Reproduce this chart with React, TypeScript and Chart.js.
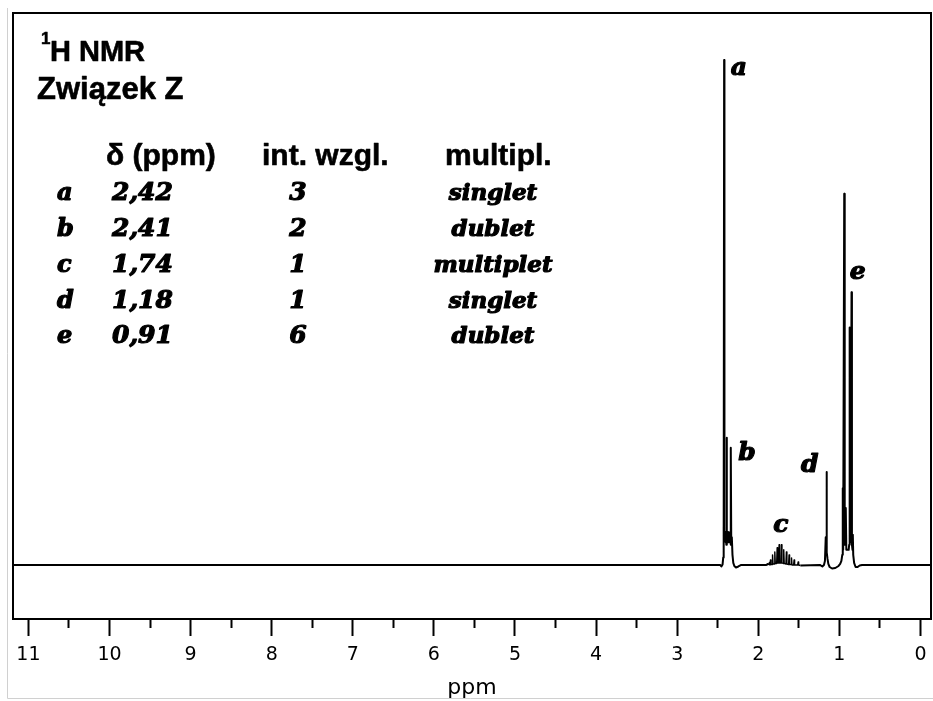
import React, { useEffect, useRef } from 'react';
import { Chart, registerables } from 'chart.js';

Chart.register(...registerables);

// ---- axis ticks (ppm) ----
const majorTicks = [11, 10, 9, 8, 7, 6, 5, 4, 3, 2, 1, 0];
const minorTicks = [10.5, 9.5, 8.5, 7.5, 6.5, 5.5, 4.5, 3.5, 2.5, 1.5, 0.5];
const xMin = -0.13;
const xMax = 11.19;
const yMin = -10.7;
const yMax = 109.3;

// ---- spectrum, [ppm, relative intensity] ----
const baselineEnds: [number, number][] = [[11.19, 0], [-0.13, 0]];

const signalAB: [number, number][] = [
  [2.47, 0], [2.455, -0.3], [2.44, 0.1], [2.432, 1.5], [2.428, 7.5], [2.425, 2.5],
  [2.421, 100], [2.417, 5], [2.41, 6.5], [2.405, 4.5], [2.398, 6], [2.394, 4],
  [2.39, 25.2], [2.386, 5], [2.38, 6.5], [2.374, 4.5], [2.368, 6.5], [2.362, 4.5],
  [2.356, 6], [2.35, 4.5], [2.344, 5.5], [2.341, 4], [2.337, 23.2], [2.333, 4],
  [2.326, 5.5], [2.318, 2], [2.308, 0.4], [2.295, -0.2], [2.275, -0.5], [2.245, -0.3],
  [2.21, 0],
];

const signalC: [number, number][] = [
  [1.9, 0], [1.88, 0.2], [1.872, 0], [1.862, 0.5], [1.856, 0], [1.849, 1],
  [1.843, 0.1], [1.83, 0.1], [1.824, 2], [1.818, 0.2], [1.802, 0.2], [1.796, 2.6],
  [1.79, 0.3], [1.773, 0.3], [1.767, 3.4], [1.761, 0.4], [1.749, 0.4], [1.743, 4],
  [1.737, 0.4], [1.72, 0.4], [1.714, 4], [1.708, 0.4], [1.692, 0.3], [1.686, 3],
  [1.68, 0.3], [1.659, 0.2], [1.653, 2.6], [1.647, 0.2], [1.626, 0.1], [1.62, 2],
  [1.614, 0.1], [1.596, 0.1], [1.59, 1.4], [1.584, 0], [1.564, 0], [1.558, 1],
  [1.552, 0], [1.514, 0], [1.508, 0.6], [1.502, 0], [1.48, -0.1],
];

const signalD: [number, number][] = [
  [1.24, 0], [1.21, -0.3], [1.19, 0], [1.178, 0.8], [1.168, 5.5],
  [1.163, 2.5], [1.158, 18.4], [1.154, 2.5], [1.146, 1.2], [1.136, 0.2], [1.12, -0.4],
  [1.09, -0.7], [1.05, -0.6], [1.01, -0.2], [0.99, 0.2],
];

const signalE: [number, number][] = [
  [0.975, 0.8], [0.964, 2], [0.958, 15.2], [0.953, 3], [0.94, 73.5],
  [0.934, 4], [0.921, 11.3], [0.914, 3], [0.9, 3], [0.885, 3], [0.879, 4],
  [0.875, 47], [0.871, 5], [0.86, 4.5], [0.85, 54], [0.845, 4], [0.838, 3],
  [0.834, 6], [0.829, 2], [0.818, 0.4], [0.8, -0.4], [0.775, -0.4], [0.75, -0.1],
  [0.72, 0],
];

// ---- text content ----
const titleLine1 = 'H NMR';
const titleSup = '1';
const titleLine2 = 'Związek Z';
const headers = ['δ (ppm)', 'int. wzgl.', 'multipl.'];
const rowLetters = ['a', 'b', 'c', 'd', 'e'];
const rowShifts = ['2,42', '2,41', '1,74', '1,18', '0,91'];
const rowIntegrals = ['3', '2', '1', '1', '6'];
const rowMultiplicities = ['singlet', 'dublet', 'multiplet', 'singlet', 'dublet'];
const peakLetters = ['a', 'b', 'c', 'd', 'e'];

const SERIF_BI = (s: number) => `italic bold ${s}px "DejaVu Serif"`;
const SANS_B = (s: number) => `bold ${s}px "Liberation Sans", Arial, sans-serif`;

function heavyText(ctx: CanvasRenderingContext2D, t: string, x: number, y: number, w: number) {
  ctx.fillText(t, x, y);
  ctx.lineWidth = w;
  ctx.strokeText(t, x, y);
}

const textPlugin = {
  id: 'nmrText',
  beforeDraw(chart: any) {
    const ctx = chart.ctx;
    ctx.save();
    ctx.strokeStyle = '#d0d0d0';
    ctx.lineWidth = 1;
    ctx.beginPath();
    ctx.moveTo(7.5, 8);
    ctx.lineTo(7.5, 698.5);
    ctx.lineTo(933, 698.5);
    ctx.stroke();
    ctx.restore();
  },
  afterDraw(chart: any) {
    const ctx = chart.ctx;
    const { left, top, right, bottom } = chart.chartArea;
    ctx.save();
    // frame
    ctx.strokeStyle = '#000';
    ctx.lineWidth = 2;
    ctx.strokeRect(left, top, right - left, bottom - top);

    ctx.fillStyle = '#000';
    ctx.strokeStyle = '#000';
    ctx.lineJoin = 'round';
    ctx.textBaseline = 'alphabetic';
    ctx.textAlign = 'left';
    // title
    ctx.font = SANS_B(17);
    heavyText(ctx, titleSup, 41, 44, 0.5);
    ctx.font = SANS_B(29);
    heavyText(ctx, titleLine1, 50, 61, 0.6);
    ctx.font = SANS_B(31);
    heavyText(ctx, titleLine2, 37, 99, 0.6);
    // header
    ctx.font = SANS_B(30);
    heavyText(ctx, headers[0], 106, 165, 0.6);
    heavyText(ctx, headers[1], 262, 165, 0.6);
    heavyText(ctx, headers[2], 445, 165, 0.6);
    // rows
    const baselines = [200, 236, 272, 308, 343];
    rowLetters.forEach((l, i) => {
      const yb = baselines[i];
      ctx.textAlign = 'left';
      ctx.font = SERIF_BI(24);
      heavyText(ctx, l, 57, yb, 1.2);
      ctx.font = SERIF_BI(25);
      heavyText(ctx, rowShifts[i], 112, yb, 1.2);
      ctx.textAlign = 'center';
      heavyText(ctx, rowIntegrals[i], 298, yb, 1.2);
      ctx.font = SERIF_BI(23);
      heavyText(ctx, rowMultiplicities[i], 493, yb, 1.2);
    });

    // peak letters, anchored in data coordinates
    const xs = chart.scales.x;
    const ys = chart.scales.y;
    const anchors = [
      [2.24, 98.4],
      [2.14, 22],
      [1.72, 7.9],
      [1.365, 19.6],
      [0.773, 58],
    ];
    ctx.font = SERIF_BI(25);
    ctx.textAlign = 'center';
    ctx.textBaseline = 'middle';
    peakLetters.forEach((l, i) => {
      heavyText(ctx, l, xs.getPixelForValue(anchors[i][0]), ys.getPixelForValue(anchors[i][1]), 1.2);
    });
    ctx.restore();
  },
};

export default function App() {
  const ref = useRef<HTMLCanvasElement | null>(null);

  useEffect(() => {
    if (!ref.current) return;
    const points = [...baselineEnds, ...signalAB, ...signalC, ...signalD, ...signalE]
      .sort((p, q) => q[0] - p[0])
      .map(([x, y]) => ({ x, y }));

    const chart = new Chart(ref.current, {
      type: 'line',
      data: {
        datasets: [
          {
            data: points,
            borderColor: '#000',
            borderWidth: 2,
            pointRadius: 0,
            tension: 0,
            fill: false,
            borderJoinStyle: 'round',
            segment: {
              borderWidth: (s: any) =>
                s.p0.parsed.x < 1.88 && s.p0.parsed.x > 1.5 ? 1.4 : 2,
            },
          } as any,
        ],
      },
      options: {
        animation: false,
        responsive: false,
        devicePixelRatio: 1,
        layout: { padding: { left: 13, top: 13, right: 2, bottom: 0 } },
        plugins: { legend: { display: false }, tooltip: { enabled: false } },
        scales: {
          x: {
            type: 'linear',
            reverse: true,
            min: xMin,
            max: xMax,
            position: 'bottom',
            border: { display: false },
            afterBuildTicks: (scale: any) => {
              scale.ticks = [...majorTicks, ...minorTicks]
                .sort((a, b) => a - b)
                .map((v) => ({ value: v }));
            },
            afterFit: (scale: any) => {
              scale.height = 82;
            },
            grid: {
              drawOnChartArea: false,
              drawTicks: true,
              tickLength: 17,
              tickWidth: 2,
              tickColor: '#000',
              tickBorderDash: (c: any) =>
                c.tick && minorTicks.includes(c.tick.value) ? [9, 100] : [],
            } as any,
            ticks: {
              autoSkip: false,
              maxRotation: 0,
              padding: 8,
              color: '#000',
              font: { family: '"DejaVu Sans"', size: 19 },
              callback: (v: any) => (majorTicks.includes(Number(v)) ? String(v) : ''),
            },
            title: {
              display: true,
              text: 'ppm',
              color: '#000',
              font: { family: '"DejaVu Sans"', size: 22 },
              padding: { top: 0, bottom: 0 },
            },
          },
          y: {
            type: 'linear',
            display: false,
            min: yMin,
            max: yMax,
          },
        },
      },
      plugins: [textPlugin],
    } as any);
    return () => chart.destroy();
  }, []);

  return (
    <div style={{ position: 'absolute', left: 0, top: 0, width: 933, height: 701 }}>
      <canvas ref={ref} width={933} height={701} style={{ display: 'block', width: 933, height: 701 }} />
    </div>
  );
}
